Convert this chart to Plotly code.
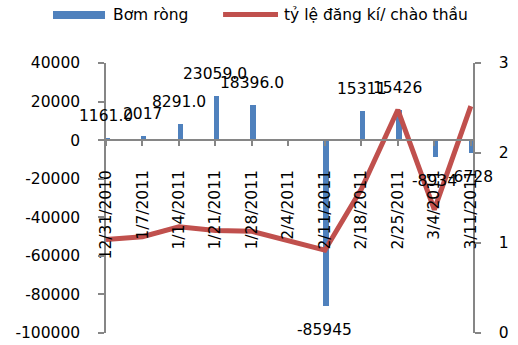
import plotly.graph_objects as go

categories = ["12/31/2010", "1/7/2011", "1/14/2011", "1/21/2011", "1/28/2011", "2/4/2011",
              "2/11/2011", "2/18/2011", "2/25/2011", "3/4/2011", "3/11/2011"]
bom_rong = [1161.0, 2017, 8291.0, 23059.0, 18396.0, None, -85945, 15311, 15426, -8934, -6728]
bom_rong_labels = ["1161.0", "2017", "8291.0", "23059.0", "18396.0", "", "-85945", "15311", "15426", "-8934", "-6728"]
ty_le = [1.04, 1.07, 1.18, 1.14, 1.13, 1.03, 0.92, 1.6, 2.48, 1.37, 2.52]

left_ticks = [40000, 20000, 0, -20000, -40000, -60000, -80000, -100000]
right_ticks = [0, 1, 2, 3]

BLUE = "#4F81BD"
RED = "#C0504D"
AXIS = "#868686"
FONT = "DejaVu Sans"
FS = 15.5

y_min, y_max = -100000, 40000

fig = go.Figure()
fig.add_trace(go.Bar(x=categories, y=bom_rong, marker=dict(color=BLUE, line=dict(width=0)),
                     width=0.14, offset=-0.04, showlegend=False, yaxis="y"))
fig.add_trace(go.Scatter(x=categories, y=ty_le, mode="lines", line=dict(color=RED, width=5),
                         showlegend=False, yaxis="y2"))

annotations = []
for c, v, t in zip(categories, bom_rong, bom_rong_labels):
    if v is None or not t:
        continue
    annotations.append(dict(x=c, y=v, xref="x", yref="y", text=t, showarrow=False,
                            yanchor="middle", yshift=22 if v > 0 else -24,
                            font=dict(family=FONT, size=FS, color="black")))

# custom legend
annotations.append(dict(x=0.0136, y=1.178, xref="paper", yref="paper", text="Bơm ròng",
                        showarrow=False, xanchor="left", yanchor="middle",
                        font=dict(family=FONT, size=FS, color="black")))
annotations.append(dict(x=0.4796, y=1.178, xref="paper", yref="paper", text="tỷ lệ đăng kí/ chào thầu",
                        showarrow=False, xanchor="left", yanchor="middle",
                        font=dict(family=FONT, size=FS, color="black")))
shapes = [
    dict(type="rect", xref="paper", yref="paper", x0=-0.1444, x1=-0.0027, y0=1.163, y1=1.193,
         fillcolor=BLUE, line=dict(width=0)),
    dict(type="line", xref="paper", yref="paper", x0=0.319, x1=0.4687, y0=1.1796, y1=1.1796,
         line=dict(color=RED, width=5)),
]

fig.update_layout(
    width=518, height=345,
    margin=dict(l=106, r=45, t=63, b=12, autoexpand=False),
    paper_bgcolor="white", plot_bgcolor="white",
    font=dict(family=FONT, size=FS, color="black"),
    bargap=0,
    xaxis=dict(type="category", range=[0, 10.06], anchor="free",
               position=(0 - y_min) / (y_max - y_min), automargin=False,
               showline=True, linecolor=AXIS, linewidth=1.5,
               ticks="outside", ticklen=5, tickcolor=AXIS, tickwidth=1.5,
               tickangle=-90, ticklabelstandoff=18, showgrid=False, zeroline=False,
               tickfont=dict(family=FONT, size=FS, color="black")),
    yaxis=dict(range=[y_min, y_max], tickvals=left_ticks, ticktext=[str(v) for v in left_ticks],
               automargin=False,
               showline=True, linecolor=AXIS, linewidth=1.5,
               ticks="outside", ticklen=6, tickcolor=AXIS, tickwidth=1.5,
               ticklabelstandoff=15, showgrid=False, zeroline=False,
               tickfont=dict(family=FONT, size=FS, color="black")),
    yaxis2=dict(range=[0, 3], tickvals=right_ticks, overlaying="y", side="right",
                automargin=False,
                showline=True, linecolor=AXIS, linewidth=1.5,
                ticks="outside", ticklen=6, tickcolor=AXIS, tickwidth=1.5,
                ticklabelstandoff=15, showgrid=False, zeroline=False,
                tickfont=dict(family=FONT, size=FS, color="black")),
    annotations=annotations,
    shapes=shapes,
)

fig.write_html("out.html", config={"displayModeBar": False},
               post_script="document.body.style.margin='0';document.body.style.overflow='hidden';")
